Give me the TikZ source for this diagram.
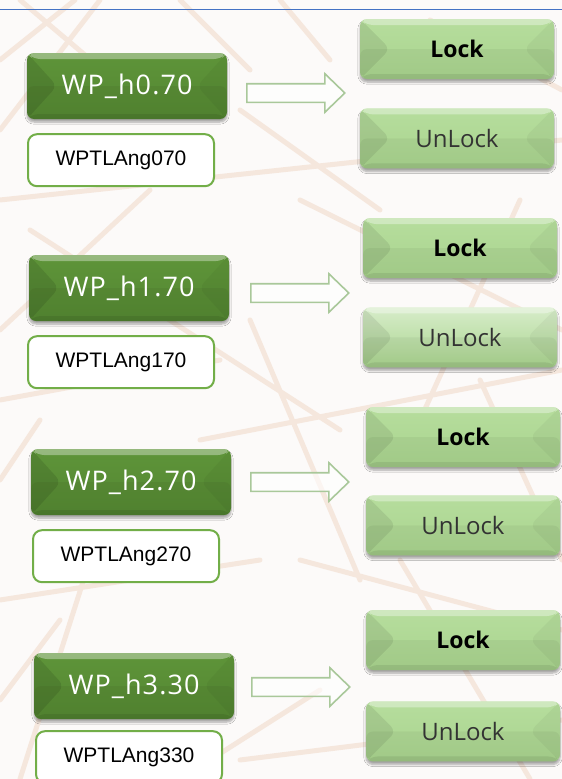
\documentclass[tikz,border=0pt]{standalone}
\usepackage{fontspec}
\setmainfont{Open Sans}
\newfontfamily\angfont{Liberation Sans}
\newfontfamily\hfont[LetterSpace=4]{Open Sans}
\usepackage{tikz}
\usetikzlibrary{positioning}
\usetikzlibrary{shapes.arrows,shadows.blur}

\definecolor{paper}{HTML}{FCFAF9}
\definecolor{straw}{HTML}{EFD5C2}
\definecolor{topline}{HTML}{4472C4}
\definecolor{hgreentop}{HTML}{5E9439}
\definecolor{hgreenbot}{HTML}{548732}
\definecolor{lgreentop}{HTML}{B6DD9D}
\definecolor{lgreenbot}{HTML}{A9D48E}
\definecolor{boxgreen}{HTML}{72AE48}
\definecolor{arrgreen}{HTML}{A9C89A}

\tikzset{
  bevel/.style={path picture={
    \fill[black,opacity=0.045] (path picture bounding box.west) rectangle (path picture bounding box.south east);
    \fill[black,opacity=#1] (path picture bounding box.north west) -- ([xshift=30pt]path picture bounding box.west) -- (path picture bounding box.south west) -- cycle;
    \fill[black,opacity=0.04] (path picture bounding box.north east) -- ([xshift=-30pt]path picture bounding box.east) -- (path picture bounding box.south east) -- cycle;
    \fill[white,opacity=0.35] (path picture bounding box.north west) -- (path picture bounding box.north east) -- ([xshift=-6pt,yshift=-6pt]path picture bounding box.north east) -- ([xshift=6pt,yshift=-6pt]path picture bounding box.north west) -- cycle;
    \fill[black,opacity=0.08] (path picture bounding box.south west) -- (path picture bounding box.south east) -- ([xshift=-5pt,yshift=5pt]path picture bounding box.south east) -- ([xshift=5pt,yshift=5pt]path picture bounding box.south west) -- cycle;
  }},
  btnshadow/.style={blur shadow={shadow xshift=0pt, shadow yshift=-3pt, shadow blur steps=6, shadow opacity=35}},
}

\begin{document}
\begin{tikzpicture}[x=1pt, y=-1pt,
  hbtn/.style={rounded corners=7pt, top color=hgreentop, bottom color=hgreenbot, minimum width=200pt, minimum height=66pt, text=white, font=\hfont\fontsize{27}{30}\selectfont, bevel=0.10, btnshadow},
  lockbtn/.style={rounded corners=7pt, top color=lgreentop, bottom color=lgreenbot, minimum width=194pt, minimum height=60pt, text=black, font=\bfseries\fontsize{23}{28}\selectfont, bevel=0.08, btnshadow},
  unlockbtn/.style={lockbtn, font=\fontsize{24}{28}\selectfont, text=black!80},
  angbox/.style={draw=boxgreen, line width=2pt, rounded corners=9pt, fill=white, minimum width=186pt, minimum height=52pt, font=\angfont\fontsize{21}{24}\selectfont},
  arr/.style={single arrow, draw=arrgreen, line width=1.6pt, fill=white, fill opacity=0.6, minimum height=98pt, minimum width=37pt, inner xsep=0pt, inner ysep=8.5pt, single arrow head extend=10pt, single arrow tip angle=88}]
  \useasboundingbox (0,0) rectangle (562,779);
  \clip (0,0) rectangle (562,779);
  % Background
  \fill[paper] (0,0) rectangle (562,779);
  \draw[straw, line width=5pt, opacity=0.5, line cap=round]
    (0,60) -- (75,0) (20,0) -- (150,110) (180,0) -- (250,70)
    (0,200) -- (562,140) (240,110) -- (380,210) (430,20) -- (562,90)
    (150,190) -- (0,330) (30,230) -- (340,430) (300,200) -- (562,330)
    (0,400) -- (220,360) (250,320) -- (360,580) (200,440) -- (562,370)
    (480,380) -- (562,560) (0,600) -- (260,560) (300,560) -- (562,630)
    (90,560) -- (20,779) (400,560) -- (530,779) (180,779) -- (320,690)
    (0,700) -- (60,620) (520,200) -- (420,420) (100,0) -- (0,130)
    (280,0) -- (330,60) (0,480) -- (40,420) (240,760) -- (562,720);
  \draw[topline, line width=1pt] (0,9) -- (562,9);
  % Nodes
  \node[hbtn] (h0) at (127,86) {WP\_h0.70};
  \node[angbox] (a0) [below=14pt of h0, xshift=-6pt] {WPTLAng070};
  \node[arr] (r0) at (291,93) {};
  \node[lockbtn] (l0) at (457,49) {Lock};
  \node[unlockbtn] (u0) [below=29pt of l0] {UnLock};

  \node[hbtn] (h1) at (129,288) {WP\_h1.70};
  \node[angbox] (a1) [below=14pt of h1, xshift=-8pt] {WPTLAng170};
  \node[arr] (r1) at (295,293) {};
  \node[lockbtn] (l1) at (460,248) {Lock};
  \node[unlockbtn, top color=lgreentop!55!white] (u1) [below=29pt of l1] {UnLock};

  \node[hbtn] (h2) at (131,482) {WP\_h2.70};
  \node[angbox] (a2) [below=14pt of h2, xshift=-5pt] {WPTLAng270};
  \node[arr] (r2) at (295,482) {};
  \node[lockbtn] (l2) at (463,437) {Lock};
  \node[unlockbtn] (u2) [below=28pt of l2] {UnLock};

  \node[hbtn] (h3) at (134,686) {WP\_h3.30};
  \node[angbox] (a3) [below=11pt of h3, xshift=-5pt] {WPTLAng330};
  \node[arr] (r3) at (296,687) {};
  \node[lockbtn] (l3) at (463,640) {Lock};
  \node[unlockbtn] (u3) [below=31pt of l3] {UnLock};
\end{tikzpicture}
\end{document}
